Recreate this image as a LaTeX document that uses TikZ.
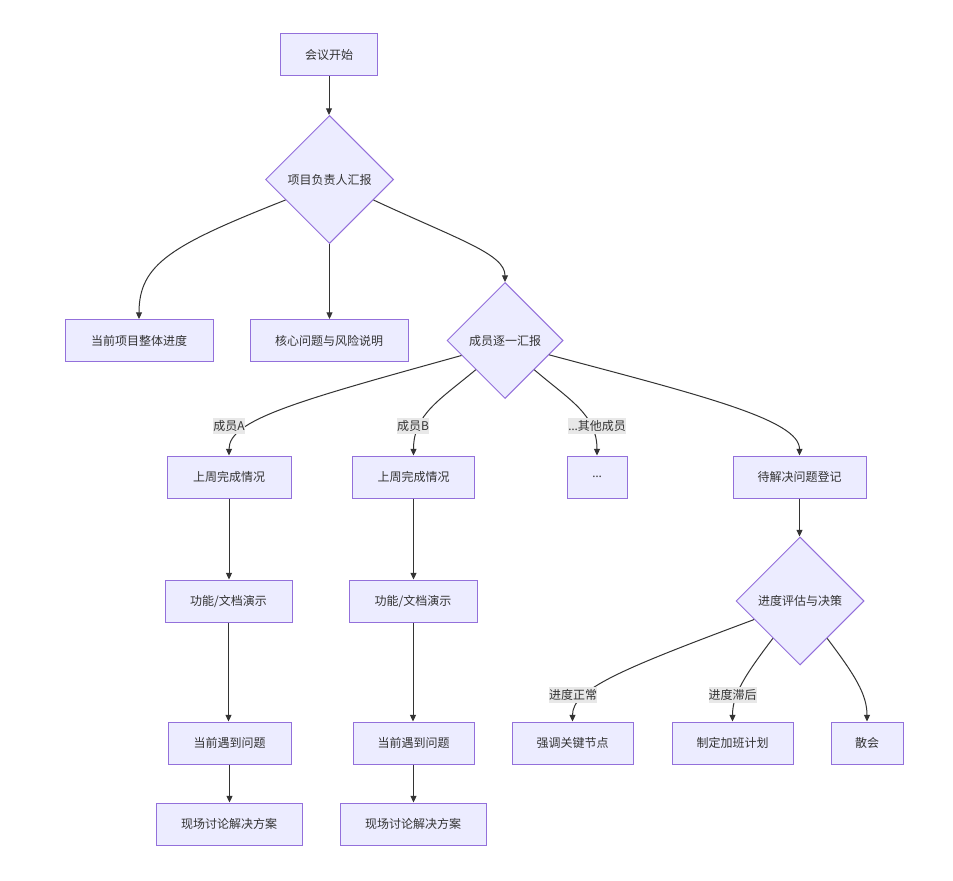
\documentclass[tikz,border=0pt]{standalone}
\usepackage{fontspec}
\setmainfont{Noto Sans CJK SC}
\newfontfamily\latinfont{Noto Sans}
\usetikzlibrary{shapes.geometric,arrows.meta,calc}
\definecolor{nodefill}{HTML}{ECECFF}
\definecolor{nodeline}{HTML}{9370DB}
\definecolor{edgecol}{HTML}{333333}
\definecolor{labelbg}{HTML}{E8E8E8}
\definecolor{txt}{HTML}{333333}
\begin{document}
\begin{tikzpicture}[x=0.75pt,y=-0.75pt,
  basefont/.style={font=\fontsize{9pt}{11pt}\selectfont, text=txt},
  box/.style={basefont, draw=nodeline, fill=nodefill, line width=0.75pt, minimum height=31.5pt, inner sep=0pt},
  dia/.style={basefont, diamond, aspect=1, draw=nodeline, fill=nodefill, line width=0.75pt, inner sep=0pt},
  edge/.style={draw=edgecol, line width=0.75pt, -{Triangle[length=5pt,width=4.5pt]}},
  elabel/.style={basefont, fill=labelbg, inner sep=0pt, minimum height=12pt}]
\fill[white] (0,0) rectangle (953,881);
\useasboundingbox (0,0) rectangle (953,881);

\node[box, minimum width=72.75pt] (start) at (329,55) {会议开始};
\node[dia, minimum width=96pt, minimum height=96pt] (pm) at (329.5,179.5) {项目负责人汇报};
\node[box, minimum width=111pt] (prog) at (139,340.5) {当前项目整体进度};
\node[box, minimum width=118.5pt] (risk) at (329,340.5) {核心问题与风险说明};
\node[dia, minimum width=87pt, minimum height=87pt] (mem) at (505,340.5) {成员逐一汇报};
\node[box, minimum width=93pt] (wA) at (229,477) {上周完成情况};
\node[box, minimum width=91pt] (wB) at (413.5,477) {上周完成情况};
\node[box, minimum width=45pt] (oth) at (597,477) {\latinfont …};
\node[box, minimum width=99.75pt] (todo) at (799.5,477) {待解决问题登记};
\node[box, minimum width=95.25pt] (dA) at (228.5,601) {功能/文档演示};
\node[box, minimum width=96pt] (dB) at (413,601) {功能/文档演示};
\node[dia, minimum width=96pt, minimum height=96pt] (eval) at (800,601) {进度评估与决策};
\node[box, minimum width=92.25pt] (qA) at (229.5,743) {当前遇到问题};
\node[box, minimum width=90.75pt] (qB) at (413.5,743) {当前遇到问题};
\node[box, minimum width=90.75pt] (kn) at (572.5,743) {强调关键节点};
\node[box, minimum width=90.75pt] (ot) at (732.5,743) {制定加班计划};
\node[box, minimum width=54pt] (fin) at (867,743) {散会};
\node[box, minimum width=109.5pt] (sA) at (229,824) {现场讨论解决方案};
\node[box, minimum width=109.5pt] (sB) at (413,824) {现场讨论解决方案};

% edges
\draw[edge] (start.south) -- (start.south |- pm.north);
\draw[edge] (pm.205) .. controls ($(pm.205)+(-114,45)$) and ($(prog.north)+(0,-55)$) .. (prog.north);
\draw[edge] (pm.south) -- (pm.south |- risk.north);
\draw[edge] (pm.335) .. controls ($(pm.335)+(86,40)$) and ($(mem.north)+(0,-28)$) .. (mem.north);

\draw[edge] (mem.199) .. controls ($(mem.199)+(-162,45)$) and ($(wA.north)+(0,-36)$) .. (wA.north);
\draw[edge] (mem.225) .. controls ($(mem.225)+(-36,30)$) and ($(wB.north)+(0,-41)$) .. (wB.north);
\draw[edge] (mem.315) .. controls ($(mem.315)+(35,30)$) and ($(oth.north)+(0,-41)$) .. (oth.north);
\draw[edge] (mem.342) .. controls ($(mem.342)+(150,40)$) and ($(todo.north)+(0,-36)$) .. (todo.north);

\draw[edge] (wA.south) -- (wA.south |- dA.north);
\draw[edge] (wB.south) -- (wB.south |- dB.north);
\draw[edge] (dA.south) -- (dA.south |- qA.north);
\draw[edge] (dB.south) -- (dB.south |- qB.north);
\draw[edge] (qA.south) -- (qA.south |- sA.north);
\draw[edge] (qB.south) -- (qB.south |- sB.north);
\draw[edge] (todo.south) -- (todo.south |- eval.north);

\draw[edge] (eval.202) .. controls ($(eval.202)+(-134,50)$) and ($(kn.north)+(0,-32)$) .. (kn.north);
\draw[edge] (eval.234) .. controls ($(eval.234)+(-28,37)$) and ($(ot.north)+(0,-27)$) .. (ot.north);
\draw[edge] (eval.306) .. controls ($(eval.306)+(28,37)$) and ($(fin.north)+(0,-27)$) .. (fin.north);

% edge labels
\node[elabel] (lA) at (229,426) {成员A};
\node[elabel] (lB) at (413,426) {成员B};
\node[elabel] (lO) at (597,426) {{\latinfont …}其他成员};
\node[elabel] (lN) at (573,694.5) {进度正常};
\node[elabel] (lL) at (732.5,694.5) {进度滞后};
\end{tikzpicture}
\end{document}
